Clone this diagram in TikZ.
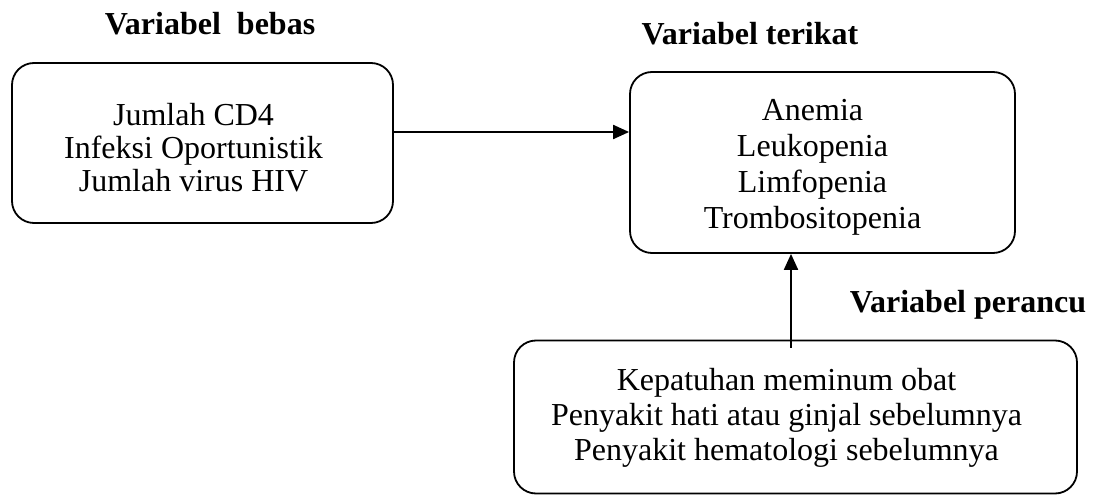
\documentclass[tikz,border=0pt]{standalone}
\usepackage{fontspec}
\setmainfont{Liberation Serif}
\usetikzlibrary{arrows.meta, positioning, calc}

\tikzset{
  varbox/.style={draw, line width=0.9pt, rounded corners=11pt, inner sep=0pt},
  vartext/.style={align=center, inner sep=0pt, font=\fontsize{16}{17.5}\selectfont},
  varlabel/.style={anchor=base, font=\fontsize{16}{18}\selectfont\bfseries},
  varline/.style={line width=1pt, -{Triangle[length=8pt,width=7pt]}}
}

\begin{document}
\begin{tikzpicture}[x=0.5pt, y=-0.5pt]
\useasboundingbox (0,0) rectangle (1101,496);

% Headings
\node[varlabel] (lblbebas) at (210,35) {Variabel\ \ bebas};
\node[varlabel] (lblterikat) at (750,45) {Variabel terikat};
\node[varlabel] (lblperancu) at (968,313) {Variabel perancu};

% Independent variables
\node[varbox, minimum width=190.5pt, minimum height=80pt] (bebas) at (202.5,143) {};
\node[vartext, font=\fontsize{16}{16.5}\selectfont] (bebastext) at ($(bebas)+(-9,5)$)
  {Jumlah CD4\\Infeksi Oportunistik\\Jumlah virus HIV};

% Dependent variables
\node[varbox, minimum width=192.5pt, minimum height=90.5pt] (terikat) at (822.5,162.5) {};
\node[vartext, font=\fontsize{16}{18}\selectfont] (terikattext) at ($(terikat)+(-10,5)$)
  {Anemia\\Leukopenia\\Limfopenia\\Trombositopenia};

% Confounding variables
\node[varbox, minimum width=281.5pt, minimum height=76.5pt] (perancu) at (795.5,417) {};
\node[vartext] (perancutext) at ($(perancu)+(-9,1)$)
  {Kepatuhan meminum obat\\Penyakit hati atau ginjal sebelumnya\\Penyakit hematologi sebelumnya};

% Connectors
\draw[varline] (bebas.east |- 0,132) -- (terikat.west |- 0,132);
\draw[varline] ($(perancu.north)+(-4.5,8)$) -- ($(perancu.north |- terikat.south)+(-4.5,0)$);
\end{tikzpicture}
\end{document}
